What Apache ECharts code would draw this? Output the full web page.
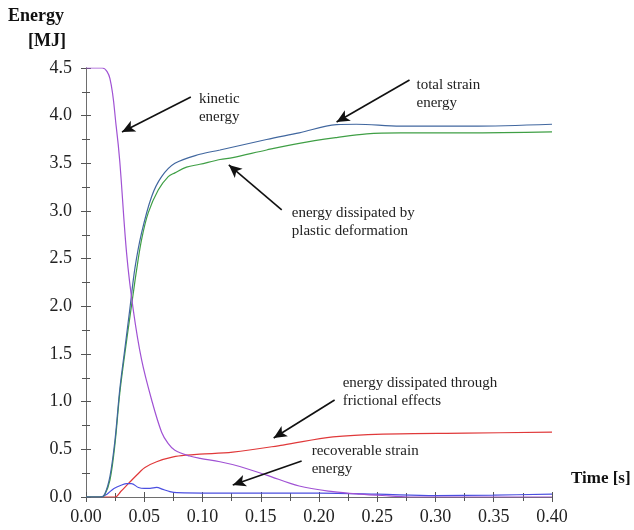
<!DOCTYPE html>
<html>
<head>
<meta charset="utf-8">
<script src="https://cdn.jsdelivr.net/npm/echarts@6/dist/echarts.min.js"></script>
<style>
html,body{margin:0;padding:0;background:#fff;}
#chart{width:634px;height:530px;}
</style>
</head>
<body>
<div id="chart"></div>
<script>
// ---- data (time [s], energy [MJ]) ----
const xTicks = ['0.00','0.05','0.10','0.15','0.20','0.25','0.30','0.35','0.40'];
const yTicks = ['0.0','0.5','1.0','1.5','2.0','2.5','3.0','3.5','4.0','4.5'];

const kinetic = [[0,4.5],[0.014,4.5],[0.0205,4.39],[0.026,3.88],[0.029,3.52],[0.0349,2.55],[0.0406,1.96],
  [0.0477,1.44],[0.0563,1.02],[0.0649,0.68],[0.0706,0.56],[0.0763,0.49],[0.089,0.43],[0.098,0.405],
  [0.115,0.37],[0.132,0.32],[0.155,0.23],[0.183,0.115],[0.212,0.056],[0.235,0.03],[0.26,0.012],
  [0.28,0.0],[0.4,0.0]];

const totalStrain = [[0,0],[0.012,0],[0.016,0.03],[0.0206,0.22],[0.0249,0.6],[0.029,1.13],[0.0334,1.56],
  [0.0377,1.98],[0.042,2.4],[0.0477,2.77],[0.0563,3.15],[0.0649,3.36],[0.0763,3.5],[0.0977,3.595],
  [0.115,3.64],[0.155,3.75],[0.183,3.82],[0.215,3.905],[0.232,3.91],[0.27,3.89],[0.33,3.89],[0.4,3.91]];

const plastic = [[0,0],[0.013,0],[0.016,0.02],[0.0206,0.18],[0.0249,0.56],[0.029,1.09],[0.0334,1.51],
  [0.0377,1.89],[0.0406,2.14],[0.0434,2.38],[0.0477,2.7],[0.0534,2.98],[0.062,3.22],[0.0706,3.36],
  [0.0763,3.4],[0.0863,3.46],[0.0977,3.49],[0.115,3.54],[0.126,3.56],[0.155,3.64],[0.183,3.71],
  [0.215,3.77],[0.241,3.81],[0.27,3.82],[0.326,3.82],[0.4,3.83]];

const frictional = [[0,0],[0.0249,0],[0.03,0.06],[0.0363,0.14],[0.046,0.26],[0.0506,0.31],[0.0606,0.37],
  [0.0749,0.42],[0.0863,0.44],[0.0977,0.45],[0.126,0.47],[0.169,0.545],[0.212,0.63],[0.255,0.66],
  [0.326,0.67],[0.4,0.68]];

const recoverable = [[0,0],[0.013,0],[0.018,0.03],[0.024,0.09],[0.0306,0.126],[0.035,0.14],[0.039,0.14],
  [0.045,0.1],[0.05,0.09],[0.055,0.09],[0.0606,0.1],[0.066,0.08],[0.072,0.056],[0.078,0.045],
  [0.109,0.04],[0.15,0.04],[0.2,0.04],[0.25,0.03],[0.3,0.015],[0.35,0.02],[0.4,0.03]];

// annotation texts, anchored in data space: [t, E] of first line's left/centre
const noteTexts = ['kinetic\nenergy','total strain\nenergy','energy dissipated by\nplastic deformation',
  'energy dissipated through\nfrictional effects','recoverable strain\nenergy'];
const notePos = [[0.0969,4.175],[0.2837,4.32],[0.1766,2.98],[0.2203,1.196],[0.1937,0.483]];
// arrows: [tail, head]
const arrows = [
  [[0.090,4.196],[0.0309,3.829]],
  [[0.2777,4.374],[0.2151,3.933]],
  [[0.168,3.011],[0.1226,3.483]],
  [[0.2134,1.018],[0.1611,0.619]],
  [[0.1851,0.378],[0.126,0.126]]
];

const serif = '"Liberation Serif", "DejaVu Serif", serif';
const chart = echarts.init(document.getElementById('chart'), null, {renderer:'canvas'});

function lineSeries(name, data, color){
  return {name, type:'line', data, showSymbol:false, smooth:0.35,
    lineStyle:{color, width:1.2}, itemStyle:{color}, z:3, silent:true};
}

const axisCommon = {
  axisLine:{show:true, lineStyle:{color:'#6e6e6e', width:1}},
  axisTick:{show:true, inside:true, length:5, lineStyle:{color:'#555'}},
  minorTick:{show:true, splitNumber:2, length:4, lineStyle:{color:'#555'}},
  splitLine:{show:false}
};

chart.setOption({
  animation:false,
  backgroundColor:'#fff',
  grid:{left:86, right:82, top:68, bottom:33, containLabel:false},
  xAxis:[
    Object.assign({type:'value', min:0, max:0.4, interval:0.05, position:'bottom',
      axisLabel:{formatter:(v)=>xTicks[Math.round(v/0.05)], fontFamily:serif, fontSize:18, color:'#222', margin:11}}, axisCommon),
    Object.assign({type:'value', min:0, max:0.4, interval:0.05, position:'top',
      axisLabel:{show:false}}, axisCommon)
  ],
  yAxis:[
    Object.assign({type:'value', min:0, max:4.5, interval:0.5, position:'left',
      axisLabel:{formatter:(v)=>yTicks[Math.round(v/0.5)], fontFamily:serif, fontSize:18, color:'#222', margin:14}}, axisCommon),
    Object.assign({type:'value', min:0, max:4.5, interval:0.5, position:'right',
      axisLabel:{show:false}}, axisCommon)
  ],
  series:[
    lineSeries('frictional', frictional, '#e0393a'),
    lineSeries('recoverable', recoverable, '#4b4fe0'),
    lineSeries('plastic', plastic, '#3f9f45'),
    lineSeries('total strain', totalStrain, '#41679f'),
    lineSeries('kinetic', kinetic, '#a052d4'),
    {type:'line', data:[], silent:true, z:5,
      markLine:{silent:true, symbol:['none','arrow'], symbolSize:[9,13], animation:false,
        lineStyle:{color:'#111', width:1.6, type:'solid'}, label:{show:false},
        emphasis:{disabled:true},
        data: arrows.map(a=>[{coord:a[0]},{coord:a[1]}])}
    }
  ]
});

const graphics = [
  {type:'text', left:8, top:7, style:{text:'Energy', font:'bold 18px '+serif, fill:'#111'}},
  {type:'text', left:28, top:32, style:{text:'[MJ]', font:'bold 18px '+serif, fill:'#111'}},
  {type:'text', left:571, top:470, style:{text:'Time [s]', font:'bold 17px '+serif, fill:'#111'}}
];
noteTexts.forEach((t,i)=>{
  const p = chart.convertToPixel({gridIndex:0}, notePos[i]);
  graphics.push({type:'text', x:p[0], y:p[1]-9, z:10,
    style:{text:t, font:'15px '+serif, fill:'#222', lineHeight:18, textVerticalAlign:'top'}});
});
chart.setOption({graphic:graphics});
</script>
</body>
</html>
